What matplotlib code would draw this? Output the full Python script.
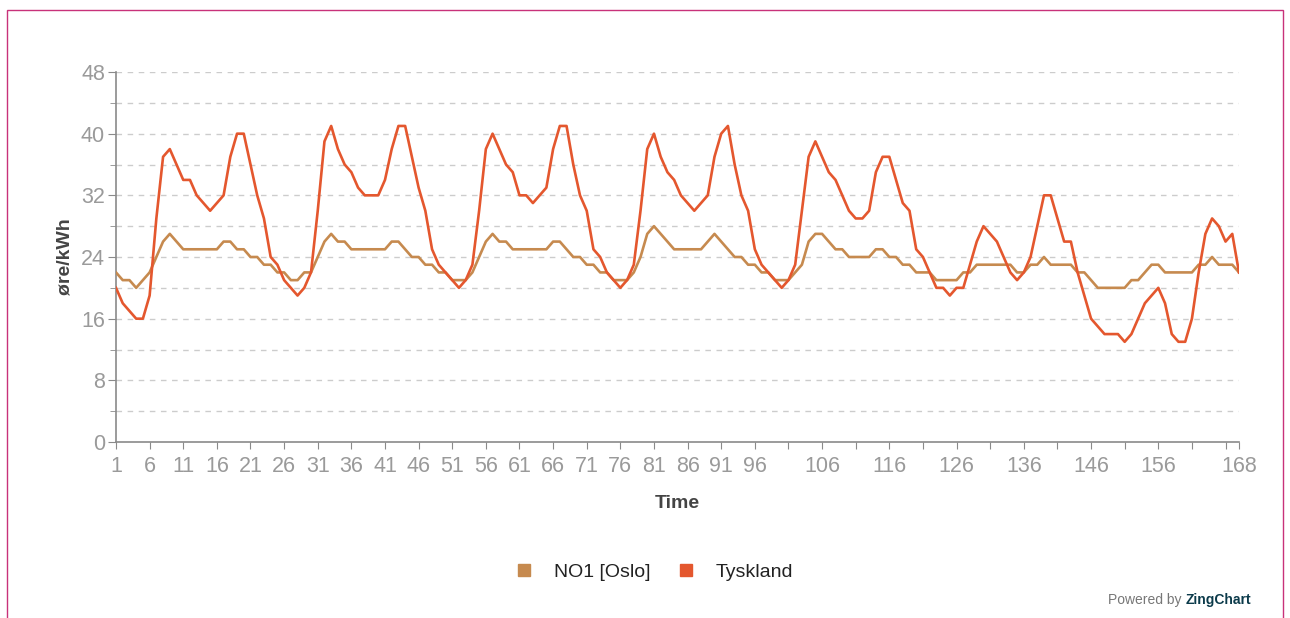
import matplotlib
matplotlib.use("Agg")
import matplotlib.pyplot as plt
from matplotlib.lines import Line2D
from matplotlib.patches import Rectangle

hours = list(range(1, 169))

no1_oslo = [22, 21, 21, 20, 21, 22, 24, 26, 27, 26, 25, 25, 25, 25, 25, 25, 26, 26, 25, 25,
            24, 24, 23, 23, 22, 22, 21, 21, 22, 22, 24, 26, 27, 26, 26, 25, 25, 25, 25, 25,
            25, 26, 26, 25, 24, 24, 23, 23, 22, 22, 21, 21, 21, 22, 24, 26, 27, 26, 26, 25,
            25, 25, 25, 25, 25, 26, 26, 25, 24, 24, 23, 23, 22, 22, 21, 21, 21, 22, 24, 27,
            28, 27, 26, 25, 25, 25, 25, 25, 26, 27, 26, 25, 24, 24, 23, 23, 22, 22, 21, 21,
            21, 22, 23, 26, 27, 27, 26, 25, 25, 24, 24, 24, 24, 25, 25, 24, 24, 23, 23, 22,
            22, 22, 21, 21, 21, 21, 22, 22, 23, 23, 23, 23, 23, 23, 22, 22, 23, 23, 24, 23,
            23, 23, 23, 22, 22, 21, 20, 20, 20, 20, 20, 21, 21, 22, 23, 23, 22, 22, 22, 22,
            22, 23, 23, 24, 23, 23, 23, 22]

tyskland = [20, 18, 17, 16, 16, 19, 29, 37, 38, 36, 34, 34, 32, 31, 30, 31, 32, 37, 40, 40,
            36, 32, 29, 24, 23, 21, 20, 19, 20, 22, 30, 39, 41, 38, 36, 35, 33, 32, 32, 32,
            34, 38, 41, 41, 37, 33, 30, 25, 23, 22, 21, 20, 21, 23, 30, 38, 40, 38, 36, 35,
            32, 32, 31, 32, 33, 38, 41, 41, 36, 32, 30, 25, 24, 22, 21, 20, 21, 23, 30, 38,
            40, 37, 35, 34, 32, 31, 30, 31, 32, 37, 40, 41, 36, 32, 30, 25, 23, 22, 21, 20,
            21, 23, 30, 37, 39, 37, 35, 34, 32, 30, 29, 29, 30, 35, 37, 37, 34, 31, 30, 25,
            24, 22, 20, 20, 19, 20, 20, 23, 26, 28, 27, 26, 24, 22, 21, 22, 24, 28, 32, 32,
            29, 26, 26, 22, 19, 16, 15, 14, 14, 14, 13, 14, 16, 18, 19, 20, 18, 14, 13, 13,
            16, 22, 27, 29, 28, 26, 27, 22]

series_names = ["NO1 [Oslo]", "Tyskland"]
series_colors = ["#C68A4F", "#E4572E"]

x_ticks = list(range(1, 167, 5)) + [168]
x_labels_shown = [str(t) if (t <= 96 or t in (106, 116, 126, 136, 146, 156, 168)) else ""
                  for t in x_ticks]
y_major = list(range(0, 49, 8))
y_minor = list(range(4, 49, 8))

plt.rcParams['font.family'] = ['Liberation Sans', 'DejaVu Sans']

fig = plt.figure(figsize=(12.9, 6.18), dpi=100)
ax = fig.add_axes([116/1290, 1-442/618, (1239-116)/1290, (442-72)/618])

ax.plot(hours, no1_oslo, color=series_colors[0], lw=1.9, zorder=3)
ax.plot(hours, tyskland, color=series_colors[1], lw=1.9, zorder=4)

ax.set_xlim(1, 168)
ax.set_ylim(0, 48)
ax.set_yticks(y_major)
ax.set_yticks(y_minor, minor=True)
ax.set_xticks(x_ticks)
ax.set_xticklabels(x_labels_shown)

for v in y_major[1:] + y_minor:
    ax.axhline(v, color="#cccccc", lw=1, ls=(0, (4, 4)), zorder=1)

for s in ["top", "right"]:
    ax.spines[s].set_visible(False)
for s in ["left", "bottom"]:
    ax.spines[s].set_color("#8a8a8a")
    ax.spines[s].set_linewidth(1.2)

ax.tick_params(axis="both", which="both", colors="#8a8a8a", labelcolor="#9a9a9a",
               labelsize=15.5, direction="out")
ax.tick_params(axis="y", which="major", length=6, pad=2)
ax.tick_params(axis="y", which="minor", length=4)
ax.tick_params(axis="x", which="major", length=5, pad=5)

ax.set_ylabel("øre/kWh", fontsize=14, fontweight="bold", color="#444444", labelpad=5)
ax.set_xlabel("Time", fontsize=14, fontweight="bold", color="#444444", labelpad=13)

handles = [Line2D([], [], ls="none", marker="s", markersize=8.5, color=c) for c in series_colors]
fig.legend(handles, series_names, loc="center", bbox_to_anchor=(0.506, 1-572/618),
           ncol=2, frameon=False, fontsize=14, handlelength=1.2, handletextpad=0.9,
           columnspacing=1.25, labelcolor="#222222")

t = fig.text(1251/1290, 1-600/618, "ZingChart", ha="right", va="center", fontsize=10,
             color="#0b3a4a", fontweight="bold")
p = fig.text(1251/1290, 1-600/618, "Powered by ", ha="right", va="center", fontsize=10,
             color="#777777")
fig.canvas.draw()
bb = t.get_window_extent()
p.set_position((bb.x0/1290, 1-600/618))

fig.patches.append(Rectangle((7/1290, -0.1), (1283-7)/1290, 1.1 - 10/618,
                             transform=fig.transFigure, fill=False,
                             edgecolor="#c8327a", lw=1))

fig.savefig("out.png", dpi=100)
